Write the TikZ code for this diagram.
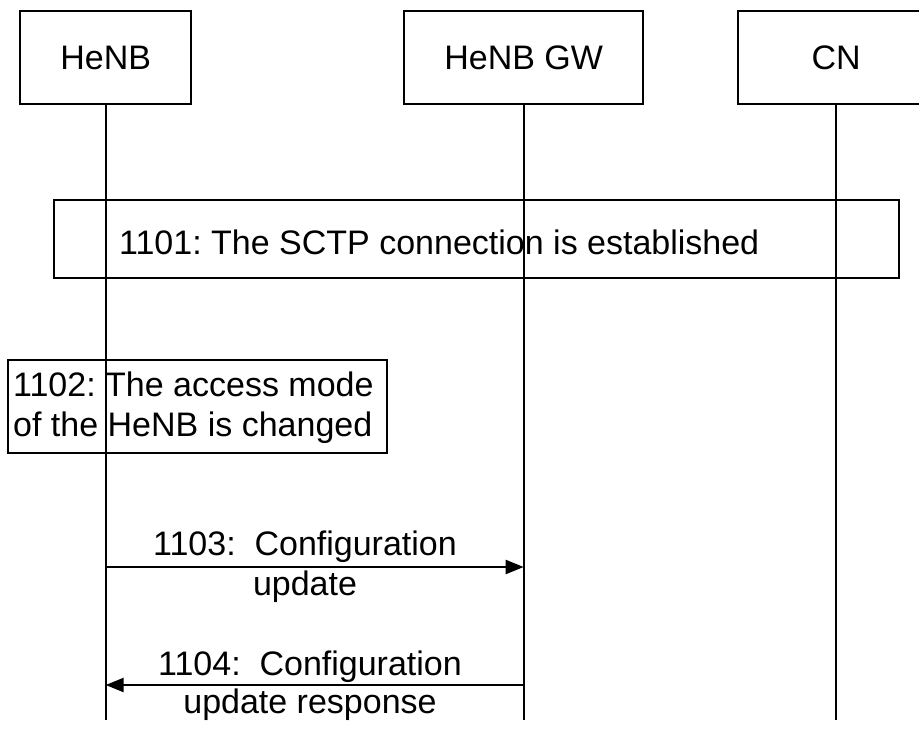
\documentclass[tikz,border=0pt]{standalone}
\usepackage{fontspec}
\setmainfont{Liberation Sans}
\usetikzlibrary{arrows.meta}
\frenchspacing
\tikzset{
  every node/.style={font=\fontsize{34}{40}\selectfont, inner sep=0pt},
  entity/.style={draw, line width=2.3pt, anchor=north west},
  frame/.style={draw, line width=2.3pt, anchor=north west},
  life/.style={line width=2.3pt},
  msg/.style={line width=2.3pt, -{Triangle[length=18pt,width=14pt]}},
  lbl/.style={align=center}
}
\begin{document}
\begin{tikzpicture}[x=1pt,y=-1pt]
\useasboundingbox (0,0) rectangle (919,729);
% header boxes
\node[entity, minimum width=171pt, minimum height=93pt] (henb) at (19,10) {};
\node (henbT) at (henb.center) {HeNB};
\node[entity, minimum width=239pt, minimum height=93pt] (gw) at (403,10) {};
\node (gwT) at (gw.center) {HeNB GW};
\node[entity, minimum width=196pt, minimum height=93pt] (cn) at (737,10) {};
\node (cnT) at (cn.center) {CN};
% step boxes
\node[frame, minimum width=845pt, minimum height=78pt] (b1101) at (53,199) {};
\node[anchor=west] (t1101) at (119,242) {\frenchspacing 1101: The SCTP connection is established};
\node[frame, minimum width=379pt, minimum height=93pt] (b1102) at (7,359) {};
\node[anchor=west, align=left] (t1102) at (13,408) {1102: The access mode\\of the HeNB is changed};
% lifeline ends
\coordinate (henbE) at (henb.south |- 0,720);
\coordinate (gwE) at (gw.south |- 0,720);
\coordinate (cnE) at (cn.south |- 0,720);
\draw[life] (henb.south) -- (henbE);
\draw[life] (gw.south) -- (gwE);
\draw[life] (cn.south) -- (cnE);
% messages
\coordinate (a1) at (henb.south |- 0,567);
\coordinate (a2) at (gw.south |- 0,567);
\coordinate (c1) at (henb.south |- 0,685);
\coordinate (c2) at (gw.south |- 0,685);
\draw[msg] (a1) -- (a2);
\draw[msg] (c2) -- (c1);
\node[lbl] (l1103) at (305,567) {1103:\ \ Configuration\\update};
\node[lbl] (l1104) at (310,686) {1104:\ \ Configuration\\[-2pt]update response};
\end{tikzpicture}
\end{document}
